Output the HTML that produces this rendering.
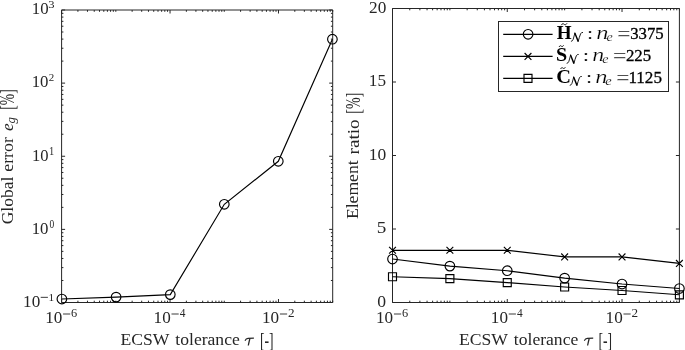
<!DOCTYPE html><html><head><meta charset="utf-8"><style>html,body{margin:0;padding:0;background:#fff;overflow:hidden}svg{display:block;filter:grayscale(1)}text{font-family:"Liberation Serif",serif}</style></head><body><svg width="685" height="350" viewBox="0 0 685 350">
<rect width="685" height="350" fill="#fff"/>
<path d="M61.6 10H332.7V302.5H61.6ZM61.6 302.5v-3.5M61.6 10v3.5M77.92 302.5v-1.8M77.92 10v1.8M87.47 302.5v-1.8M87.47 10v1.8M94.24 302.5v-1.8M94.24 10v1.8M99.5 302.5v-1.8M99.5 10v1.8M103.79 302.5v-1.8M103.79 10v1.8M107.42 302.5v-1.8M107.42 10v1.8M110.57 302.5v-1.8M110.57 10v1.8M113.34 302.5v-1.8M113.34 10v1.8M115.82 302.5v-1.8M115.82 10v1.8M132.14 302.5v-1.8M132.14 10v1.8M141.69 302.5v-1.8M141.69 10v1.8M148.46 302.5v-1.8M148.46 10v1.8M153.72 302.5v-1.8M153.72 10v1.8M158.01 302.5v-1.8M158.01 10v1.8M161.64 302.5v-1.8M161.64 10v1.8M164.79 302.5v-1.8M164.79 10v1.8M167.56 302.5v-1.8M167.56 10v1.8M170.04 302.5v-3.5M170.04 10v3.5M186.36 302.5v-1.8M186.36 10v1.8M195.91 302.5v-1.8M195.91 10v1.8M202.68 302.5v-1.8M202.68 10v1.8M207.94 302.5v-1.8M207.94 10v1.8M212.23 302.5v-1.8M212.23 10v1.8M215.86 302.5v-1.8M215.86 10v1.8M219.01 302.5v-1.8M219.01 10v1.8M221.78 302.5v-1.8M221.78 10v1.8M224.26 302.5v-1.8M224.26 10v1.8M240.58 302.5v-1.8M240.58 10v1.8M250.13 302.5v-1.8M250.13 10v1.8M256.9 302.5v-1.8M256.9 10v1.8M262.16 302.5v-1.8M262.16 10v1.8M266.45 302.5v-1.8M266.45 10v1.8M270.08 302.5v-1.8M270.08 10v1.8M273.23 302.5v-1.8M273.23 10v1.8M276 302.5v-1.8M276 10v1.8M278.48 302.5v-3.5M278.48 10v3.5M294.8 302.5v-1.8M294.8 10v1.8M304.35 302.5v-1.8M304.35 10v1.8M311.12 302.5v-1.8M311.12 10v1.8M316.38 302.5v-1.8M316.38 10v1.8M320.67 302.5v-1.8M320.67 10v1.8M324.3 302.5v-1.8M324.3 10v1.8M327.45 302.5v-1.8M327.45 10v1.8M330.22 302.5v-1.8M330.22 10v1.8M332.7 302.5v-1.8M332.7 10v1.8M61.6 302.5h3.5M332.7 302.5h-3.5M61.6 280.49h1.8M332.7 280.49h-1.8M61.6 267.61h1.8M332.7 267.61h-1.8M61.6 258.47h1.8M332.7 258.47h-1.8M61.6 251.39h1.8M332.7 251.39h-1.8M61.6 245.6h1.8M332.7 245.6h-1.8M61.6 240.7h1.8M332.7 240.7h-1.8M61.6 236.46h1.8M332.7 236.46h-1.8M61.6 232.72h1.8M332.7 232.72h-1.8M61.6 229.38h3.5M332.7 229.38h-3.5M61.6 207.36h1.8M332.7 207.36h-1.8M61.6 194.49h1.8M332.7 194.49h-1.8M61.6 185.35h1.8M332.7 185.35h-1.8M61.6 178.26h1.8M332.7 178.26h-1.8M61.6 172.47h1.8M332.7 172.47h-1.8M61.6 167.58h1.8M332.7 167.58h-1.8M61.6 163.34h1.8M332.7 163.34h-1.8M61.6 159.6h1.8M332.7 159.6h-1.8M61.6 156.25h3.5M332.7 156.25h-3.5M61.6 134.24h1.8M332.7 134.24h-1.8M61.6 121.36h1.8M332.7 121.36h-1.8M61.6 112.22h1.8M332.7 112.22h-1.8M61.6 105.14h1.8M332.7 105.14h-1.8M61.6 99.35h1.8M332.7 99.35h-1.8M61.6 94.45h1.8M332.7 94.45h-1.8M61.6 90.21h1.8M332.7 90.21h-1.8M61.6 86.47h1.8M332.7 86.47h-1.8M61.6 83.12h3.5M332.7 83.12h-3.5M61.6 61.11h1.8M332.7 61.11h-1.8M61.6 48.24h1.8M332.7 48.24h-1.8M61.6 39.1h1.8M332.7 39.1h-1.8M61.6 32.01h1.8M332.7 32.01h-1.8M61.6 26.22h1.8M332.7 26.22h-1.8M61.6 21.33h1.8M332.7 21.33h-1.8M61.6 17.09h1.8M332.7 17.09h-1.8M61.6 13.35h1.8M332.7 13.35h-1.8M61.6 10h3.5M332.7 10h-3.5" fill="none" stroke="#262626" stroke-width="1"/>
<path d="M392.5 8.5H679.4V302.5H392.5ZM392.5 302.5v-3.5M392.5 8.5v3.5M409.77 302.5v-1.8M409.77 8.5v1.8M419.88 302.5v-1.8M419.88 8.5v1.8M427.05 302.5v-1.8M427.05 8.5v1.8M432.61 302.5v-1.8M432.61 8.5v1.8M437.15 302.5v-1.8M437.15 8.5v1.8M440.99 302.5v-1.8M440.99 8.5v1.8M444.32 302.5v-1.8M444.32 8.5v1.8M447.25 302.5v-1.8M447.25 8.5v1.8M449.88 302.5v-1.8M449.88 8.5v1.8M467.15 302.5v-1.8M467.15 8.5v1.8M477.26 302.5v-1.8M477.26 8.5v1.8M484.43 302.5v-1.8M484.43 8.5v1.8M489.99 302.5v-1.8M489.99 8.5v1.8M494.53 302.5v-1.8M494.53 8.5v1.8M498.37 302.5v-1.8M498.37 8.5v1.8M501.7 302.5v-1.8M501.7 8.5v1.8M504.63 302.5v-1.8M504.63 8.5v1.8M507.26 302.5v-3.5M507.26 8.5v3.5M524.53 302.5v-1.8M524.53 8.5v1.8M534.64 302.5v-1.8M534.64 8.5v1.8M541.81 302.5v-1.8M541.81 8.5v1.8M547.37 302.5v-1.8M547.37 8.5v1.8M551.91 302.5v-1.8M551.91 8.5v1.8M555.75 302.5v-1.8M555.75 8.5v1.8M559.08 302.5v-1.8M559.08 8.5v1.8M562.01 302.5v-1.8M562.01 8.5v1.8M564.64 302.5v-1.8M564.64 8.5v1.8M581.91 302.5v-1.8M581.91 8.5v1.8M592.02 302.5v-1.8M592.02 8.5v1.8M599.19 302.5v-1.8M599.19 8.5v1.8M604.75 302.5v-1.8M604.75 8.5v1.8M609.29 302.5v-1.8M609.29 8.5v1.8M613.13 302.5v-1.8M613.13 8.5v1.8M616.46 302.5v-1.8M616.46 8.5v1.8M619.39 302.5v-1.8M619.39 8.5v1.8M622.02 302.5v-3.5M622.02 8.5v3.5M639.29 302.5v-1.8M639.29 8.5v1.8M649.4 302.5v-1.8M649.4 8.5v1.8M656.57 302.5v-1.8M656.57 8.5v1.8M662.13 302.5v-1.8M662.13 8.5v1.8M666.67 302.5v-1.8M666.67 8.5v1.8M670.51 302.5v-1.8M670.51 8.5v1.8M673.84 302.5v-1.8M673.84 8.5v1.8M676.77 302.5v-1.8M676.77 8.5v1.8M679.4 302.5v-1.8M679.4 8.5v1.8M392.5 302.5h3.5M679.4 302.5h-3.5M392.5 229h3.5M679.4 229h-3.5M392.5 155.5h3.5M679.4 155.5h-3.5M392.5 82h3.5M679.4 82h-3.5M392.5 8.5h3.5M679.4 8.5h-3.5" fill="none" stroke="#262626" stroke-width="1"/>
<g fill="none" stroke="#000" stroke-width="1.15">
<path d="M61.9 299L116.1 297.1L170.3 294.6L224.3 204.3L278.3 161.3L332.4 39.2"/>
<circle cx="61.9" cy="299" r="4.8"/>
<circle cx="116.1" cy="297.1" r="4.8"/>
<circle cx="170.3" cy="294.6" r="4.8"/>
<circle cx="224.3" cy="204.3" r="4.8"/>
<circle cx="278.3" cy="161.3" r="4.8"/>
<circle cx="332.4" cy="39.2" r="4.8"/>
</g>
<g fill="none" stroke="#000" stroke-width="1.15">
<path d="M392.5 250.3L449.88 250.3L507.26 250.3L564.64 256.9L622.02 256.9L679.4 263.4"/>
<path d="M392.5 259L449.88 266.1L507.26 270.7L564.64 278.1L622.02 284L679.4 288.5"/>
<path d="M392.5 276.7L449.88 278.6L507.26 282.6L564.64 287L622.02 290.5L679.4 294.8"/>
<circle cx="392.5" cy="259" r="4.8"/>
<circle cx="449.88" cy="266.1" r="4.8"/>
<circle cx="507.26" cy="270.7" r="4.8"/>
<circle cx="564.64" cy="278.1" r="4.8"/>
<circle cx="622.02" cy="284" r="4.8"/>
<circle cx="679.4" cy="288.5" r="4.8"/>
<path d="M389.1 246.9l6.8 6.8M389.1 253.7l6.8 -6.8M446.48 246.9l6.8 6.8M446.48 253.7l6.8 -6.8M503.86 246.9l6.8 6.8M503.86 253.7l6.8 -6.8M561.24 253.5l6.8 6.8M561.24 260.3l6.8 -6.8M618.62 253.5l6.8 6.8M618.62 260.3l6.8 -6.8M676 260l6.8 6.8M676 266.8l6.8 -6.8"/>
<path d="M388.5 272.7h8.0v8.0h-8.0ZM445.88 274.6h8.0v8.0h-8.0ZM503.26 278.6h8.0v8.0h-8.0ZM560.64 283h8.0v8.0h-8.0ZM618.02 286.5h8.0v8.0h-8.0ZM675.4 290.8h8.0v8.0h-8.0Z"/>
</g>
<text transform="translate(31.73 13.88) scale(1.0169 1)" font-size="16.52" fill="#262626">10</text>
<text transform="translate(48.3 7.79) scale(1.1306 1)" font-size="11.15" fill="#262626">3</text>
<text transform="translate(31.73 87.08) scale(0.9819 1)" font-size="17.11" fill="#262626">10</text>
<text transform="translate(48.84 80.7) scale(0.9657 1)" font-size="11.32" fill="#262626">2</text>
<text transform="translate(31.95 160.68) scale(0.9518 1)" font-size="17.41" fill="#262626">10</text>
<text transform="translate(49.08 154.9) scale(0.8769 1)" font-size="11.97" fill="#262626">1</text>
<text transform="translate(31.73 233.68) scale(0.9650 1)" font-size="17.41" fill="#262626">10</text>
<text transform="translate(49.55 227.78) scale(0.7652 1)" font-size="12.3" fill="#262626">0</text>
<text transform="translate(23.1 306.9) scale(1.0144 1)" font-size="16.9" fill="#262626">10</text>
<rect x="40.7" y="296.85" width="7.2" height="0.9" fill="#262626"/>
<text transform="translate(48.61 300.9) scale(0.9989 1)" font-size="11.36" fill="#262626">1</text>
<text transform="translate(45.15 323) scale(1.0144 1)" font-size="16.9" fill="#262626">10</text><rect x="63.05" y="313.55" width="7.2" height="0.9" fill="#262626"/><text transform="translate(71.12 316.98) scale(1.0688 1)" font-size="11.6" fill="#262626">6</text>
<text transform="translate(376.05 323) scale(1.0144 1)" font-size="16.9" fill="#262626">10</text><rect x="393.95" y="313.55" width="7.2" height="0.9" fill="#262626"/><text transform="translate(402.02 316.98) scale(1.0688 1)" font-size="11.6" fill="#262626">6</text>
<text transform="translate(153.59 323) scale(1.0144 1)" font-size="16.9" fill="#262626">10</text><rect x="171.49" y="313.55" width="7.2" height="0.9" fill="#262626"/><text transform="translate(179.86 317.1) scale(0.9610 1)" font-size="11.86" fill="#262626">4</text>
<text transform="translate(490.81 323) scale(1.0144 1)" font-size="16.9" fill="#262626">10</text><rect x="508.71" y="313.55" width="7.2" height="0.9" fill="#262626"/><text transform="translate(517.08 317.1) scale(0.9610 1)" font-size="11.86" fill="#262626">4</text>
<text transform="translate(262.03 323) scale(1.0144 1)" font-size="16.9" fill="#262626">10</text><rect x="279.93" y="313.55" width="7.2" height="0.9" fill="#262626"/><text transform="translate(287.97 317.1) scale(1.1188 1)" font-size="11.77" fill="#262626">2</text>
<text transform="translate(605.57 323) scale(1.0144 1)" font-size="16.9" fill="#262626">10</text><rect x="623.47" y="313.55" width="7.2" height="0.9" fill="#262626"/><text transform="translate(631.51 317.1) scale(1.1188 1)" font-size="11.77" fill="#262626">2</text>
<text transform="translate(377.14 306.73) scale(1.0096 1)" font-size="17.48" fill="#262626">0</text>
<text transform="translate(376.7 233.23) scale(1.1064 1)" font-size="17.29" fill="#262626">5</text>
<text transform="translate(368.87 159.73) scale(1.0003 1)" font-size="17.48" fill="#262626">10</text>
<text transform="translate(368.8 85.73) scale(1.0191 1)" font-size="16.87" fill="#262626">15</text>
<text transform="translate(369.07 12.68) scale(1.0101 1)" font-size="17.11" fill="#262626">20</text>
<text transform="translate(120.42 345.15) scale(1.0393 1)" font-size="16.97" fill="#262626">ECSW</text><text transform="translate(175.32 345.23) scale(1.0339 1)" font-size="17.02" fill="#262626">tolerance</text><path d="M245.0 340.7Q246.0 338.4 248.0 338.35L253.9 338.15" fill="none" stroke="#262626" stroke-width="1.1"/><path d="M249.9 338.5Q249.0 342 248.3 345.5" fill="none" stroke="#262626" stroke-width="1.25"/><text transform="translate(259.98 346.75) scale(0.6703 1)" font-size="20.36" fill="#262626">[-]</text>
<text transform="translate(458.91 345.15) scale(1.0393 1)" font-size="16.97" fill="#262626">ECSW</text><text transform="translate(513.82 345.23) scale(1.0339 1)" font-size="17.02" fill="#262626">tolerance</text><path d="M584.3 340.7Q585.3 338.4 587.3 338.35L593.2 338.15" fill="none" stroke="#262626" stroke-width="1.1"/><path d="M589.2 338.5Q588.3 342 587.6 345.5" fill="none" stroke="#262626" stroke-width="1.25"/><text transform="translate(598.48 346.75) scale(0.6703 1)" font-size="20.36" fill="#262626">[-]</text>
<g transform="translate(13.0 0) rotate(-90)"><text transform="translate(-224.3 0.12) scale(0.9950 1)" font-size="17.59" fill="#262626">Global</text><text transform="translate(-171.82 0.12) scale(1.0253 1)" font-size="17.5" fill="#262626">error</text><text transform="translate(-130.92 0.12) scale(0.9783 1)" font-size="17.71" font-style="italic" fill="#262626">e</text><text transform="translate(-123.4 2.25) scale(1.0629 1)" font-size="12.01" font-style="italic" fill="#262626">g</text><text transform="translate(-109.72 1.09) scale(0.6540 1)" font-size="20.84" fill="#262626">[%]</text></g>
<g transform="translate(358.5 0) rotate(-90)"><text transform="translate(-219.09 -0.07) scale(1.0624 1)" font-size="16.6" fill="#262626">Element</text><text transform="translate(-154.38 0) scale(1.1268 1)" font-size="17.0" fill="#262626">ratio</text><text transform="translate(-113.65 1.48) scale(0.6958 1)" font-size="20.12" fill="#262626">[%]</text></g>
<rect x="498.5" y="21.5" width="170" height="70" fill="#fff" stroke="#262626" stroke-width="1"/>
<g fill="none" stroke="#000" stroke-width="1.15">
<path d="M503.2 34.3H552.6"/>
<path d="M503.2 56.4H552.6"/>
<path d="M503.2 78.4H552.6"/>
<circle cx="528.1" cy="34.3" r="4.8"/>
<path d="M524.6 53.0l6.8 6.8M524.6 59.8l6.8 -6.8"/>
<path d="M524 74.4h8v8h-8Z"/>
</g>
<text transform="translate(556.67 38.9) scale(1.0231 1)" font-size="18.63" font-weight="bold" fill="#000">H</text>
<path d="M561.4 24.85C562.3 23.4 563.2 23.48 564.1 24.25S565.9 25.1 566.8 23.65" fill="none" stroke="#000" stroke-width="0.9" stroke-linecap="round"/>
<path d="M571.35 41.32Q572.62 41.13 573.2 39.3L574.83 33.35" fill="none" stroke="#000" stroke-width="0.85" stroke-linecap="round"/><path d="M574.94 33.16L578.08 41.13" fill="none" stroke="#000" stroke-width="1.4" stroke-linecap="round"/><path d="M578.19 41.32Q579.35 37 580.63 33.74Q581.44 32.2 582.6 32.39" fill="none" stroke="#000" stroke-width="0.9" stroke-linecap="round"/>
<text stroke="#fff" stroke-width="0.1" transform="translate(586.93 38.76) scale(1.3934 1)" font-size="15.88" fill="#000">:</text>
<text stroke="#fff" stroke-width="0.22" transform="translate(596.25 39.3) scale(1.3642 1)" font-size="17.87" font-style="italic" fill="#000">n</text>
<text stroke="#fff" stroke-width="0.2" transform="translate(606.38 41.38) scale(1.1600 1)" font-size="12.08" font-style="italic" fill="#000">e</text>
<text stroke="#fff" stroke-width="0.3" transform="translate(617 41.33) scale(1.1807 1)" font-size="20.4" fill="#000">=</text>
<text stroke="#000" stroke-width="0.3" transform="translate(630.21 39.13) scale(0.9871 1)" font-size="16.95" fill="#000">3375</text>
<text transform="translate(556.04 60.72) scale(1.1271 1)" font-size="17.84" font-weight="bold" fill="#000">S</text>
<path d="M559.23 46.67C559.92 45.4 560.61 45.48 561.3 46.15S562.68 46.9 563.37 45.62" fill="none" stroke="#000" stroke-width="0.9" stroke-linecap="round"/>
<path d="M567.05 63.32Q568.32 63.13 568.9 61.3L570.53 55.35" fill="none" stroke="#000" stroke-width="0.85" stroke-linecap="round"/><path d="M570.64 55.16L573.78 63.13" fill="none" stroke="#000" stroke-width="1.4" stroke-linecap="round"/><path d="M573.89 63.32Q575.05 59 576.33 55.74Q577.14 54.2 578.3 54.39" fill="none" stroke="#000" stroke-width="0.9" stroke-linecap="round"/>
<text stroke="#fff" stroke-width="0.1" transform="translate(582.66 60.76) scale(1.4470 1)" font-size="15.88" fill="#000">:</text>
<text stroke="#fff" stroke-width="0.22" transform="translate(592.26 61.3) scale(1.3377 1)" font-size="17.87" font-style="italic" fill="#000">n</text>
<text stroke="#fff" stroke-width="0.2" transform="translate(602.18 63.38) scale(1.1600 1)" font-size="12.08" font-style="italic" fill="#000">e</text>
<text stroke="#fff" stroke-width="0.3" transform="translate(612.67 63.15) scale(1.2258 1)" font-size="20.0" fill="#000">=</text>
<text stroke="#000" stroke-width="0.3" transform="translate(625.88 61.23) scale(0.9860 1)" font-size="17.1" fill="#000">225</text>
<text transform="translate(556.33 83.01) scale(1.0815 1)" font-size="18.88" font-weight="bold" fill="#000">C</text>
<path d="M560.75 68.59C561.48 67.4 562.22 67.47 562.95 68.1S564.42 68.8 565.15 67.61" fill="none" stroke="#000" stroke-width="0.9" stroke-linecap="round"/>
<path d="M570.15 85.32Q571.42 85.13 572 83.3L573.63 77.35" fill="none" stroke="#000" stroke-width="0.85" stroke-linecap="round"/><path d="M573.74 77.16L576.88 85.13" fill="none" stroke="#000" stroke-width="1.4" stroke-linecap="round"/><path d="M576.99 85.32Q578.15 81 579.43 77.74Q580.24 76.2 581.4 76.39" fill="none" stroke="#000" stroke-width="0.9" stroke-linecap="round"/>
<text stroke="#fff" stroke-width="0.1" transform="translate(585.93 82.76) scale(1.3934 1)" font-size="15.88" fill="#000">:</text>
<text stroke="#fff" stroke-width="0.22" transform="translate(595.25 83.3) scale(1.3642 1)" font-size="17.87" font-style="italic" fill="#000">n</text>
<text stroke="#fff" stroke-width="0.2" transform="translate(605.16 85.38) scale(1.2022 1)" font-size="12.08" font-style="italic" fill="#000">e</text>
<text stroke="#fff" stroke-width="0.3" transform="translate(616 85.33) scale(1.1807 1)" font-size="20.4" fill="#000">=</text>
<text stroke="#000" stroke-width="0.3" transform="translate(628.4 83.03) scale(0.9920 1)" font-size="17.25" fill="#000">1125</text>
</svg></body></html>
